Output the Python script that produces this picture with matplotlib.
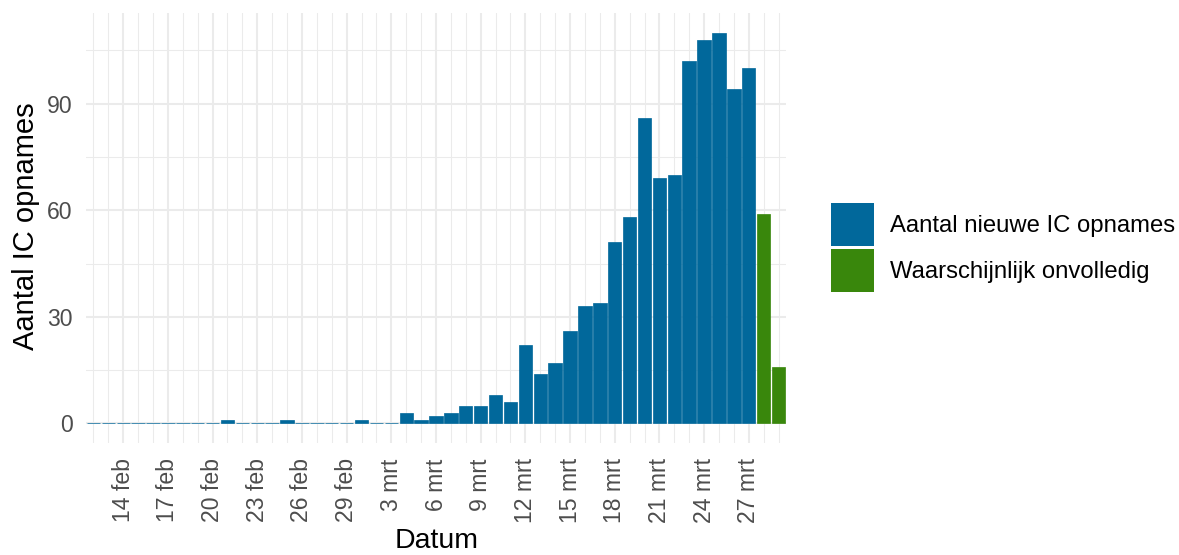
import matplotlib
matplotlib.use("Agg")
import matplotlib.pyplot as plt
import matplotlib.dates as mdates
from matplotlib.patches import Patch
from matplotlib.ticker import FixedLocator, MultipleLocator
import pandas as pd

plt.rcParams['font.family'] = ['Liberation Sans', 'DejaVu Sans']

# data: new IC admissions per day
dates = pd.date_range("2020-02-12", "2020-03-29", freq="D")
ic_new = [0, 0, 0, 0, 0, 0, 0, 0, 0, 1,          # 12 - 21 feb
          0, 0, 0, 1, 0, 0, 0, 0,                # 22 - 29 feb
          1, 0, 0, 3, 1, 2, 3, 5, 5, 8, 6,       # 1 - 11 mrt
          22, 14, 17, 26, 33, 34, 51, 58, 86,    # 12 - 20 mrt
          69, 70, 102, 108, 110, 94, 100,        # 21 - 27 mrt
          59, 16]                                # 28 - 29 mrt
n_incomplete = 2  # last days probably incomplete

series_labels = ["Aantal nieuwe IC opnames", "Waarschijnlijk onvolledig"]
series_colors = ["#01689b", "#39870c"]
month_nl = {1: "jan", 2: "feb", 3: "mrt", 4: "apr"}

y_ticks = [0, 30, 60, 90]

W, H = 1179, 555
fig = plt.figure(figsize=(W / 100, H / 100), dpi=100)
ax = fig.add_axes([86 / W, 1 - 443 / H, 700 / W, 430 / H])

x = mdates.date2num(dates)
colors = [series_colors[0]] * (len(ic_new) - n_incomplete) + [series_colors[1]] * n_incomplete
ax.bar(x, ic_new, width=0.9, color=colors, edgecolor=colors, linewidth=0.5, zorder=3)

# axis ranges (no x expansion, 5% y expansion like ggplot)
ax.set_xlim(x[0] - 0.5, x[-1] + 0.5)
ymax = max(ic_new)
ax.set_ylim(-0.05 * ymax, 1.05 * ymax)

# ticks and grid
major_dates = dates[2::3]
ax.xaxis.set_major_locator(FixedLocator(mdates.date2num(major_dates)))
ax.xaxis.set_minor_locator(FixedLocator(x))
ax.set_xticklabels([f"{d.day} {month_nl[d.month]}" for d in major_dates],
                   rotation=90, ha="right", va="center", rotation_mode="anchor")
ax.yaxis.set_major_locator(FixedLocator(y_ticks))
ax.yaxis.set_minor_locator(MultipleLocator(15))

ax.grid(which="major", color="#ebebeb", linewidth=1.5, zorder=0)
ax.grid(which="minor", color="#ebebeb", linewidth=0.75, zorder=0)
ax.set_axisbelow(True)

ax.tick_params(axis="both", which="both", length=0, labelsize=16.6, labelcolor="#4d4d4d")
ax.tick_params(axis="y", pad=9.5)
ax.tick_params(axis="x", pad=11)

for s in ax.spines.values():
    s.set_visible(False)

# axis titles
fig.text(437 / W, 0.5 / H, "Datum", ha="center", va="bottom", fontsize=20.5)
fig.text(12 / W, 1 - 226 / H, "Aantal IC opnames", ha="left", va="center",
         rotation=90, fontsize=21)

# legend (matplotlib shrinks the handle box by a descent term, so compensate)
fs = 17.2
fpx = fs * 100 / 72
key = 43 / fpx
hh = (key - 0.245) / 0.65
handles = [Patch(facecolor=c, edgecolor="none") for c in series_colors]
fig.legend(handles, series_labels, loc="upper left",
           bbox_to_anchor=(831 / W, 1 - 203 / H), bbox_transform=fig.transFigure,
           frameon=False, fontsize=fs, borderpad=0, borderaxespad=0,
           handlelength=key, handleheight=hh,
           handletextpad=16 / fpx, labelspacing=3 / fpx)

fig.savefig("out.png", dpi=100, facecolor="white")
